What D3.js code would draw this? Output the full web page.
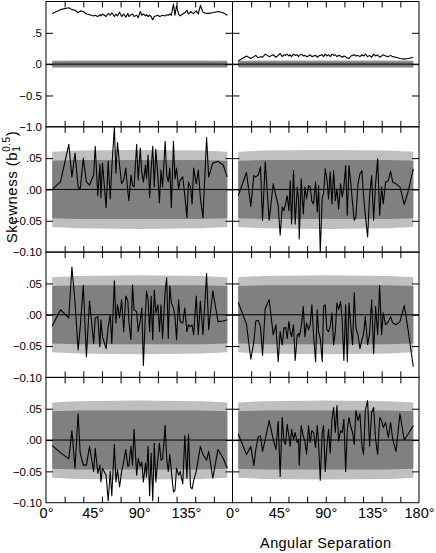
<!DOCTYPE html>
<html>
<head>
<meta charset="utf-8">
<title>skewness vs angular separation</title>
<script src="https://cdn.jsdelivr.net/npm/d3@7"></script>
<style>
body { margin: 0; background: #fff; }
svg text { font-family: "Liberation Sans", Arial, sans-serif; }
</style>
</head>
<body>
<div id="chart"></div>
<script>
// angular separations (deg) for each column
var leftAngles = [6, 14, 22, 25, 28, 31, 33, 36, 39, 42, 46, 47.5, 50, 52, 53, 54.5, 58, 60, 62, 63.5,
  66, 67.5, 69, 71, 73, 75, 77, 79, 80, 82, 83.5, 85, 87.5, 89, 91, 92.5, 94, 96, 97, 98.5,
  100, 101.5, 103, 104.5, 106, 108, 109.5, 111, 112.5, 115, 116.5, 118, 119.5, 121, 123, 124.5, 126, 128, 129.5, 132,
  134, 136, 137.5, 139.5, 141, 142.5, 145, 147, 149, 151.5, 155, 157, 161, 166, 171, 175];

var rightAngles = [5.5, 13.5, 17.7, 20.6, 22.5, 24.8, 27.0, 29.0, 31.6, 35.4, 39.3, 41.9, 44.1, 46.0, 48.0, 49.6,
  51.2, 52.8, 54.4, 55.7, 57.0, 58.9, 60.5, 62.5, 63.8, 64.4, 66.3, 68.3, 69.9, 71.5, 73.4, 75.0,
  76.6, 78.2, 80.2, 81.8, 83.1, 84.7, 86.6, 87.9, 89.5, 91.1, 92.7, 94.3, 96.0, 97.6, 99.2, 100.8,
  102.4, 104.3, 105.9, 107.5, 109.2, 110.8, 112.4, 114.3, 115.9, 117.5, 119.1, 121.1, 123.0, 124.9,
  126.5, 128.2, 130.4, 132.3, 134.3, 136.2, 138.1, 140.1, 142.0, 143.9, 145.5, 147.8, 150.4, 152.6,
  154.6, 157.8, 161.6, 165.8, 169.7, 174.5];

// skewness values, left column, top to bottom
var skewL1 = [0.81, 0.87, 0.90, 0.87, 0.86, 0.82, 0.85, 0.84, 0.80, 0.79,
  0.77, 0.78, 0.76, 0.79, 0.77, 0.80, 0.76, 0.81, 0.78, 0.82,
  0.76, 0.80, 0.77, 0.83, 0.76, 0.80, 0.75, 0.81, 0.76, 0.79,
  0.80, 0.76, 0.78, 0.74, 0.84, 0.78, 0.80, 0.77, 0.79, 0.76,
  0.78, 0.76, 0.71, 0.76, 0.77, 0.78, 0.76, 0.77, 0.78, 0.77,
  0.79, 0.78, 0.80, 0.78, 0.96, 0.78, 0.93, 0.80, 0.77, 0.80,
  0.82, 0.86, 0.80, 0.84, 0.82, 0.81, 0.85, 0.80, 0.94, 0.83,
  0.81, 0.81, 0.82, 0.84, 0.82, 0.78];
var skewL2 = [0.000, 0.012, 0.072, 0.020, 0.058, 0.004, 0.000, 0.050, 0.012, 0.007,
  0.023, 0.069, -0.010, 0.040, -0.013, 0.042, -0.029, 0.045, -0.015, 0.034,
  0.099, 0.026, 0.075, 0.039, 0.009, 0.015, 0.034, -0.004, -0.018, 0.023,
  0.007, 0.004, 0.072, 0.015, 0.066, 0.026, 0.012, 0.039, 0.017, 0.055,
  -0.013, 0.034, 0.069, 0.004, 0.064, 0.020, -0.021, 0.031, 0.004, 0.077,
  0.023, 0.012, 0.034, -0.029, 0.077, 0.017, 0.034, 0.001, 0.015, 0.020,
  -0.010, -0.045, 0.012, 0.004, -0.023, 0.034, 0.009, 0.031, -0.013, -0.045,
  0.083, 0.020, 0.042, 0.045, 0.039, 0.020];
var skewL3 = [-0.018, 0.008, -0.005, 0.076, 0.020, -0.056, -0.020, 0.047, -0.067, 0.022,
  -0.046, -0.005, -0.003, -0.051, -0.008, -0.035, -0.054, -0.019, 0.000, -0.046,
  0.054, -0.013, 0.016, -0.005, 0.024, -0.027, 0.030, 0.022, -0.011, -0.040,
  0.048, 0.008, 0.005, -0.027, -0.008, 0.011, -0.081, 0.003, 0.038, 0.024,
  -0.027, 0.030, -0.040, 0.039, 0.003, 0.016, -0.027, 0.016, -0.038, 0.038,
  0.059, -0.038, 0.046, 0.019, 0.011, -0.003, -0.040, 0.024, -0.011, -0.013,
  0.011, -0.027, -0.016, -0.019, -0.016, -0.032, 0.030, -0.032, 0.022, -0.032,
  0.066, -0.024, 0.038, -0.011, -0.010, -0.008];
var skewL4 = [-0.009, -0.020, -0.030, 0.015, -0.045, 0.042, -0.021, -0.040, -0.040, -0.010,
  -0.050, -0.013, -0.053, -0.040, -0.067, -0.045, -0.056, -0.097, -0.050, -0.089,
  -0.007, -0.067, -0.047, -0.075, -0.050, -0.034, -0.015, -0.042, -0.040, -0.010,
  -0.040, 0.017, -0.056, -0.029, -0.042, -0.035, -0.067, -0.037, -0.059, -0.010,
  -0.089, -0.021, -0.097, -0.005, -0.067, -0.029, -0.005, -0.032, -0.030, 0.023,
  -0.029, -0.050, -0.023, -0.050, -0.083, -0.080, -0.045, -0.056, -0.050, -0.070,
  0.007, -0.061, 0.009, -0.075, -0.078, -0.065, -0.050, -0.030, -0.010, -0.023,
  -0.032, -0.018, -0.061, -0.015, -0.029, -0.045];

// right column
var skewR1 = [0.05, 0.13, 0.09, 0.12, 0.14, 0.10, 0.12, 0.11, 0.16, 0.12,
  0.15, 0.11, 0.14, 0.17, 0.12, 0.15, 0.14, 0.16, 0.13, 0.15,
  0.12, 0.16, 0.14, 0.15, 0.12, 0.14, 0.16, 0.13, 0.14, 0.12,
  0.13, 0.15, 0.12, 0.13, 0.14, 0.11, 0.13, 0.14, 0.15, 0.12,
  0.16, 0.13, 0.15, 0.12, 0.16, 0.14, 0.15, 0.12, 0.14, 0.13,
  0.11, 0.13, 0.12, 0.10, 0.09, 0.13, 0.14, 0.15, 0.13, 0.14,
  0.12, 0.15, 0.13, 0.16, 0.12, 0.14, 0.11, 0.16, 0.13, 0.15,
  0.11, 0.13, 0.15, 0.13, 0.12, 0.14, 0.12, 0.11, 0.09, 0.08,
  0.09, 0.11];
var skewR2 = [-0.010, 0.027, -0.027, 0.022, 0.020, 0.023, 0.036, -0.049, 0.044, -0.049,
  0.009, -0.010, -0.026, -0.073, -0.028, -0.034, -0.023, -0.010, -0.034, 0.014,
  -0.055, 0.030, -0.055, 0.004, -0.015, -0.079, 0.017, -0.039, 0.004, -0.015,
  0.006, 0.004, -0.019, -0.023, 0.012, -0.036, 0.006, -0.100, -0.013, -0.007,
  0.033, 0.017, -0.015, 0.028, -0.023, 0.030, -0.018, 0.001, -0.031, 0.009,
  -0.012, 0.004, 0.038, -0.041, 0.038, 0.009, -0.023, -0.049, -0.044, 0.009,
  0.025, 0.030, -0.010, -0.041, -0.076, -0.010, 0.022, -0.049, 0.009, 0.049,
  -0.041, 0.004, -0.023, 0.012, 0.014, 0.029, 0.012, 0.009, 0.004, -0.024,
  -0.002, 0.033];
var skewR3 = [0.020, -0.015, -0.071, -0.043, -0.010, -0.009, -0.019, -0.065, 0.010, 0.024,
  -0.032, -0.016, -0.075, -0.027, -0.048, -0.021, -0.020, -0.038, -0.011, -0.027,
  -0.035, -0.016, -0.073, -0.032, -0.030, -0.035, -0.020, 0.013, -0.035, -0.013,
  -0.024, -0.016, 0.016, -0.032, -0.075, 0.008, -0.027, -0.038, -0.075, 0.013,
  0.016, -0.024, -0.027, -0.019, 0.003, -0.048, -0.027, 0.019, 0.008, 0.021,
  -0.010, -0.073, 0.016, -0.075, 0.019, -0.021, -0.048, 0.035, -0.021, -0.032,
  -0.054, -0.040, -0.030, -0.003, -0.048, -0.030, 0.024, -0.062, 0.013, -0.032,
  0.047, -0.032, 0.003, -0.016, -0.011, -0.003, -0.013, -0.016, -0.011, 0.015,
  -0.027, -0.083];
var skewR4 = [0.010, -0.023, -0.010, -0.041, -0.015, 0.005, 0.007, -0.018, 0.001, 0.031,
  0.001, -0.015, 0.030, -0.058, 0.036, -0.001, -0.007, 0.025, 0.006, -0.010,
  0.017, 0.001, 0.012, -0.004, 0.001, -0.040, 0.023, 0.006, -0.002, -0.023,
  0.023, -0.004, 0.015, 0.012, -0.012, 0.023, -0.006, -0.064, 0.012, 0.023,
  -0.050, -0.010, 0.017, -0.021, 0.033, 0.052, 0.012, 0.055, -0.002, 0.015,
  0.012, 0.033, -0.050, 0.017, 0.036, 0.020, 0.012, -0.007, 0.047, 0.031,
  0.042, -0.010, -0.023, 0.047, 0.063, -0.010, 0.044, 0.052, 0.001, -0.023,
  0.036, 0.031, 0.020, 0.028, 0.004, 0.028, 0.001, -0.018, 0.042, 0.000,
  0.010, 0.023];

// confidence bands (outer light, inner dark), symmetric about zero
var bandAnglesL = [6, 30, 90, 150, 175];
var bandAnglesR = [5.5, 30, 90, 150, 174.5];
var bandOuter = [0.060, 0.062, 0.063, 0.062, 0.060];
var bandInner = [0.046, 0.047, 0.047, 0.047, 0.046];

var xTicks = [18, 36, 54, 72, 90, 108, 126, 144, 162];
var yTicksTop = [0.5, 0, -0.5, -1];
var yTicksLow = [0.05, 0, -0.05, -0.1];

var width = 436, height = 553;
var colX = [[46, 232.5], [232.5, 419]];
var firstTop = 1.5, rowH = 125.3;

var svg = d3.select('#chart').append('svg')
    .attr('width', width)
    .attr('height', height);

var leftSkew = [skewL1, skewL2, skewL3, skewL4];
var rightSkew = [skewR1, skewR2, skewR3, skewR4];

var minus = function(s) { return s.replace('-', '\u2212'); };
var fmtTop = function(d) { return minus(d3.format('.1f')(d).replace(/^(-?)0\./, '$1.')); };
var fmtLow = function(d) { return minus(d3.format('.2f')(d).replace(/^(-?)0\./, '$1.')); };

function drawPanel(row, col) {
    const angles = col == 0 ? leftAngles : rightAngles;
    const vals = col == 0 ? leftSkew[row] : rightSkew[row];
    const bAng = col == 0 ? bandAnglesL : bandAnglesR;
    const pTop = firstTop + row * rowH, pBot = pTop + rowH;

    const x = d3.scaleLinear().domain([0, 180]).range(colX[col]);
    const y = d3.scaleLinear().domain(row == 0 ? [-1, 1] : [-0.1, 0.1]).range([pBot, pTop]);

    const g = svg.append('g');
    const idx = d3.range(bAng.length);

    // bands
    g.append('path')
        .datum(idx)
        .attr('fill', '#bfbfbf')
        .attr('d', d3.area()
            .x(i => x(bAng[i]))
            .y0(i => y(-bandOuter[i]))
            .y1(i => y(bandOuter[i])));
    g.append('path')
        .datum(idx)
        .attr('fill', '#808080')
        .attr('d', d3.area()
            .x(i => x(bAng[i]))
            .y0(i => y(-bandInner[i]))
            .y1(i => y(bandInner[i])));

    // zero line
    g.append('line')
        .attr('x1', x(0)).attr('x2', x(180))
        .attr('y1', y(0)).attr('y2', y(0))
        .attr('stroke', '#000')
        .attr('stroke-width', 1);

    // data
    g.append('path')
        .datum(d3.range(angles.length))
        .attr('fill', 'none')
        .attr('stroke', '#000')
        .attr('stroke-width', 1.1)
        .attr('stroke-linejoin', 'round')
        .attr('d', d3.line()
            .x(i => x(angles[i]))
            .y(i => y(vals[i])));

    // frame
    g.append('rect')
        .attr('x', x(0)).attr('y', pTop)
        .attr('width', x(180) - x(0)).attr('height', rowH)
        .attr('fill', 'none')
        .attr('stroke', '#000')
        .attr('stroke-width', 1);

    // inward ticks
    const yt = (row == 0 ? yTicksTop : yTicksLow).slice(0, 3);
    g.append('g').attr('transform', 'translate(0,' + pBot + ')')
        .call(d3.axisBottom(x).tickValues(xTicks).tickSize(-6).tickFormat(''));
    g.append('g').attr('transform', 'translate(0,' + pTop + ')')
        .call(d3.axisTop(x).tickValues(xTicks).tickSize(-6).tickFormat(''));
    g.append('g').attr('transform', 'translate(' + x(0) + ',0)')
        .call(d3.axisLeft(y).tickValues(yt).tickSize(-7).tickFormat(''));
    g.append('g').attr('transform', 'translate(' + x(180) + ',0)')
        .call(d3.axisRight(y).tickValues(yt).tickSize(-7).tickFormat(''));
    g.selectAll('.domain').remove();
    g.selectAll('.tick line').attr('stroke', '#000');

    // y labels on the left column
    if (col == 0) {
        const ly = svg.append('g').attr('transform', 'translate(' + x(0) + ',0)')
            .call(d3.axisLeft(y)
                .tickValues(row == 0 ? yTicksTop : yTicksLow)
                .tickSize(0).tickPadding(4)
                .tickFormat(row == 0 ? fmtTop : fmtLow));
        ly.select('.domain').remove();
        ly.attr('font-size', 11.5).attr('font-family', null);
    }

    // x labels under the bottom row
    if (row == 3) {
        const lx = svg.append('g').attr('transform', 'translate(0,' + pBot + ')')
            .call(d3.axisBottom(x)
                .tickValues(col == 0 ? [0, 45, 90, 135] : [0, 45, 90, 135, 180])
                .tickSize(0).tickPadding(5)
                .tickFormat(d => d + '\u00b0'));
        lx.select('.domain').remove();
        lx.attr('font-size', 14.5).attr('font-family', null);
    }
}

for (let row = 0; row < 4; row++) {
    for (let col = 0; col < 2; col++) {
        drawPanel(row, col);
    }
}

// axis titles
svg.append('text')
    .attr('x', (colX[1][0] + colX[1][1]) / 2)
    .attr('y', 548)
    .attr('text-anchor', 'middle')
    .attr('font-size', 14.5)
    .attr('letter-spacing', 0.4)
    .text('Angular Separation');

var ytitle = svg.append('text')
    .attr('transform', 'translate(16.5,187) rotate(-90)')
    .attr('text-anchor', 'middle')
    .attr('font-size', 15)
    .attr('letter-spacing', 0.5);
ytitle.append('tspan').text('Skewness (b');
ytitle.append('tspan').attr('font-size', 10).attr('dy', 3).text('1');
ytitle.append('tspan').attr('font-size', 10).attr('dx', -6).attr('dy', -9.5).text('0.5');
ytitle.append('tspan').attr('dy', 6.5).text(')');
</script>
</body>
</html>
